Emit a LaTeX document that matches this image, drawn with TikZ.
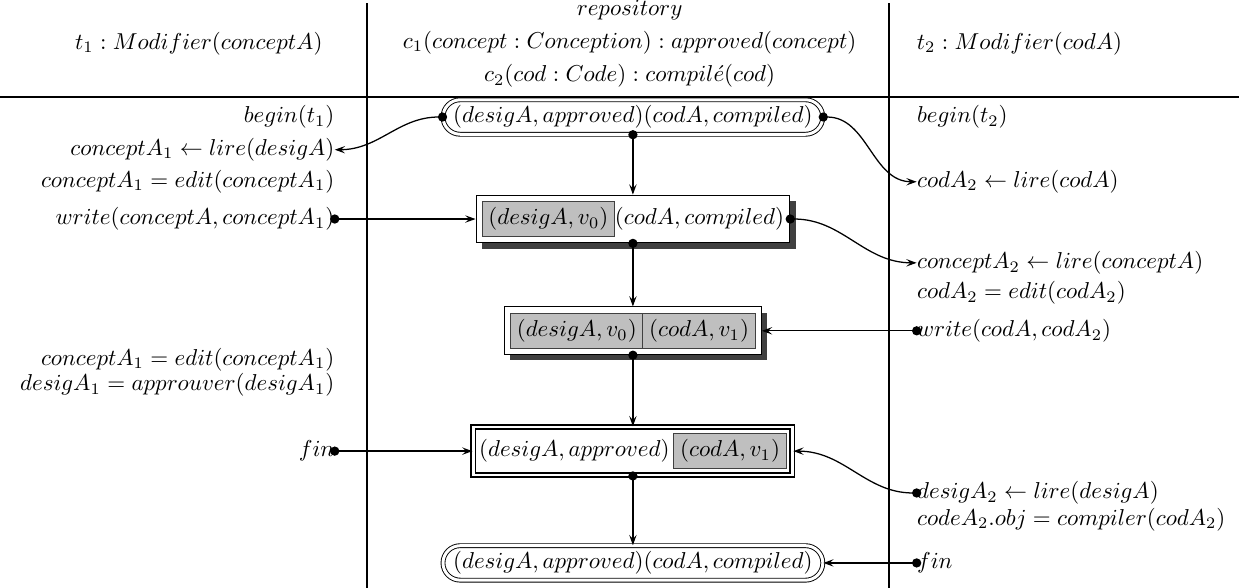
\documentclass[tikz,border=0pt]{standalone}
\usetikzlibrary{arrows.meta,shapes.misc,shadows}

\tikzset{
	etat/.style={draw, rounded rectangle, double, double distance=1.3pt, fill=white, inner sep=2.5pt},
	encours/.style={draw, fill=white, inner sep=2.5pt,
		drop shadow={shadow xshift=2.5pt, shadow yshift=-2.5pt, fill=black!75, opacity=1}},
	valide/.style={draw, double, line width=0.8pt, double distance=1pt, inner sep=2.5pt},
	op/.style={inner sep=0pt},
	lien/.style={line width=0.55pt, shorten <=-2pt,
		{Circle[length=4pt]}-{Stealth[length=4.5pt, width=3.2pt, inset=1.8pt]}},
}
\newcommand{\verrou}[1]{{\setlength{\fboxsep}{2.5pt}\fcolorbox{black!75}{gray!50}{$#1$}}}

\begin{document}
\begin{tikzpicture}
\useasboundingbox (0,0) rectangle (18.95,-8.99);

% columns
\draw [line width=0.9pt] (0,-1.48) -- (18.95,-1.48);
\draw [line width=0.9pt] (5.62,-0.05) -- (5.62,-8.99);
\draw [line width=0.9pt] (13.6,-0.05) -- (13.6,-8.99);

\node (t1head) at (3.04,-0.67) {$t_1 : Modifier(conceptA)$};
\node (repo) [align=center] at (9.63,-0.67) {$repository$\\[2.5pt]
	$c_1(concept : Conception) : approved(concept)$\\[2.5pt]
	$c_2(cod : Code) : compil\acute{e}(cod)$};
\node (t2head) [anchor=west] at (13.9,-0.67) {$t_2 : Modifier(codA)$};

% repository states
\node (s0) [etat] at (9.68,-1.79) {$(desigA, approved)(codA, compiled)$};
\node (s1) [encours] at (9.68,-3.35) {\verrou{(desigA, v_0)}$(codA, compiled)$};
\node (s2) [encours] at (9.68,-5.06) {\verrou{(desigA, v_0)}\kern-\fboxrule\verrou{(codA, v_1)}};
\node (s3) [valide] at (9.68,-6.90) {$(desigA, approved)$\,\verrou{(codA, v_1)}};
\node (s4) [etat] at (9.68,-8.61) {$(desigA, approved)(codA, compiled)$};

% transaction t1
\node (begL) [op, anchor=east] at (5.12,-1.79) {$begin(t_1)$};
\node (lireL) [op, anchor=east] at (5.12,-2.29) {$conceptA_1 \leftarrow lire(desigA)$};
\node (editL) [op, anchor=east] at (5.12,-2.78) {$conceptA_1 = edit(conceptA_1)$};
\node (writeL) [op, anchor=east] at (5.12,-3.35) {$write(conceptA, conceptA_1)$};
\node (editLb) [op, anchor=east] at (5.12,-5.50) {$conceptA_1 = edit(conceptA_1)$};
\node (apprL) [op, anchor=east] at (5.12,-5.89) {$desigA_1 = approuver(desigA_1)$};
\node (finL) [op, anchor=east] at (5.12,-6.90) {$fin$};

% transaction t2
\node (begR) [op, anchor=west] at (14.02,-1.79) {$begin(t_2)$};
\node (lireR) [op, anchor=west] at (14.02,-2.78) {$codA_2 \leftarrow lire(codA)$};
\node (lireRb) [op, anchor=west] at (14.02,-4.02) {$conceptA_2 \leftarrow lire(conceptA)$};
\node (editR) [op, anchor=west] at (14.02,-4.48) {$codA_2 = edit(codA_2)$};
\node (writeR) [op, anchor=west] at (14.02,-5.06) {$write(codA, codA_2)$};
\node (lireRc) [op, anchor=west] at (14.02,-7.54) {$desigA_2 \leftarrow lire(desigA)$};
\node (compR) [op, anchor=west] at (14.02,-7.95) {$codeA_2.obj = compiler(codA_2)$};
\node (finR) [op, anchor=west] at (14.02,-8.61) {$fin$};

% connectors
\draw [lien] (s0.south) -- (s1.north);
\draw [lien] (s1.south) -- (s2.north);
\draw [lien] (s2.south) -- (s3.north);
\draw [lien] (s3.south) -- (s4.north);

\draw [lien] (s0.west) to[out=180, in=0] (lireL.east);
\draw [lien] (s0.east) to[out=0, in=180] (lireR.west);
\draw [lien] (writeL.east) -- (s1.west);
\draw [lien] (s1.east) to[out=0, in=180] (lireRb.west);
\draw [lien] (writeR.west) -- (s2.east);
\draw [lien] (finL.east) -- (s3.west);
\draw [lien] (lireRc.west) to[out=180, in=0] (s3.east);
\draw [lien] (finR.west) -- (s4.east);
\end{tikzpicture}
\end{document}
